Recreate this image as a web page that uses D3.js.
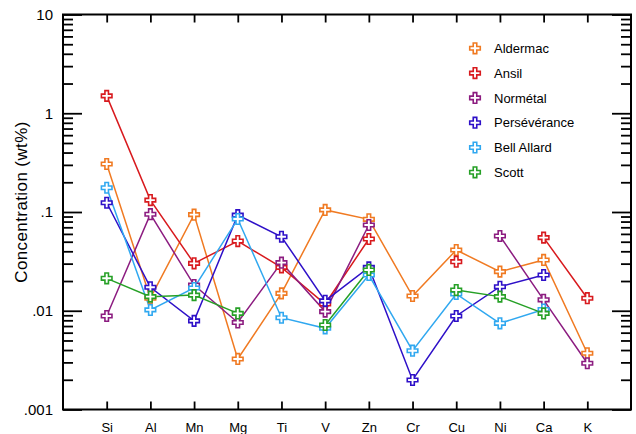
<!DOCTYPE html>
<html>
<head>
<meta charset="utf-8">
<script src="https://cdn.jsdelivr.net/npm/d3@7"></script>
<style>
  body { margin: 0; background: #fff; }
  text { font-family: "Liberation Sans", Arial, Helvetica, sans-serif; fill: #000; }
</style>
</head>
<body>
<div class="chart"></div>
<script>
var elements = ["Si", "Al", "Mn", "Mg", "Ti", "V", "Zn", "Cr", "Cu", "Ni", "Ca", "K"];

var aldermac     = [0.306, 0.0134, 0.094, 0.00325, 0.0150, 0.105, 0.0843, 0.0141, 0.0412, 0.0249, 0.0327, 0.00371];
var ansil        = [1.50, 0.132, 0.0302, 0.0508, 0.0275, 0.0117, 0.0533, null, 0.0314, null, 0.055, 0.0134];
var normetal     = [0.00885, 0.095, 0.0182, 0.0076, 0.0307, 0.0098, 0.0738, null, null, 0.0571, 0.0129, 0.00294];
var perseverance = [0.124, 0.0173, 0.0079, 0.093, 0.0562, 0.0126, 0.0275, 0.00199, 0.00885, 0.0175, 0.023, null];
var bellAllard   = [0.176, 0.0102, 0.0170, 0.085, 0.0085, 0.00664, 0.0230, 0.00394, 0.0148, 0.00746, 0.0103, null];
var scott        = [0.0213, 0.0139, 0.0144, 0.0094, null, 0.00718, 0.0259, null, 0.0162, 0.0139, 0.0094, null];

var seriesNames = ["Aldermac", "Ansil", "Normétal", "Persévérance", "Bell Allard", "Scott"];
var seriesColors = ["#f07a22", "#d81a1e", "#8c1c80", "#2e10c8", "#30a8f0", "#26a026"];
var seriesValues = [aldermac, ansil, normetal, perseverance, bellAllard, scott];

var majorTicks = [0.001, 0.01, 0.1, 1, 10];
var majorLabels = [".001", ".01", ".1", "1", "10"];

var width = 636,
    height = 434;
var plotLeft = 63, plotRight = 631, plotTop = 14.5, plotBottom = 409.5;

var svg = d3.select(".chart").append("svg")
    .attr("width", width)
    .attr("height", height);

var x = d3.scalePoint().domain(elements).range([plotLeft, plotRight]).padding(1);
var y = d3.scaleLog().domain([0.001, 10]).range([plotBottom, plotTop]);

var minorTicks = [];
[0.001, 0.01, 0.1, 1].forEach(function(d) {
  for (var k = 2; k <= 9; k++) minorTicks.push(d * k);
});

// left axis
svg.append("g")
    .attr("class", "axis")
    .attr("transform", "translate(" + plotLeft + ",0)")
    .call(d3.axisLeft(y).tickValues(majorTicks).tickSize(-19).tickPadding(10)
      .tickFormat(function(d, i) { return majorLabels[i]; }));
svg.append("g")
    .attr("class", "axis")
    .attr("transform", "translate(" + plotLeft + ",0)")
    .call(d3.axisLeft(y).tickValues(minorTicks).tickSize(-10).tickFormat(""));

// right axis
svg.append("g")
    .attr("class", "axis")
    .attr("transform", "translate(" + plotRight + ",0)")
    .call(d3.axisRight(y).tickValues(majorTicks).tickSize(-19).tickFormat(""));
svg.append("g")
    .attr("class", "axis")
    .attr("transform", "translate(" + plotRight + ",0)")
    .call(d3.axisRight(y).tickValues(minorTicks).tickSize(-10).tickFormat(""));

// bottom + top
svg.append("g")
    .attr("class", "axis xlab")
    .attr("transform", "translate(0," + plotBottom + ")")
    .call(d3.axisBottom(x).tickSize(-8).tickPadding(13));
svg.append("g")
    .attr("class", "axis")
    .attr("transform", "translate(0," + plotTop + ")")
    .call(d3.axisTop(x).tickSize(-8).tickFormat(""));

svg.selectAll(".axis .domain").remove();
svg.selectAll(".axis line").attr("stroke", "#000").attr("stroke-width", 1.8);
svg.selectAll(".axis text").style("font-size", "15px").attr("fill", "#000");
svg.selectAll(".xlab text").style("font-size", "13px");

svg.append("rect")
    .attr("x", plotLeft)
    .attr("y", plotTop)
    .attr("width", plotRight - plotLeft)
    .attr("height", plotBottom - plotTop)
    .attr("fill", "none")
    .attr("stroke", "#000")
    .attr("stroke-width", 2);

svg.append("text")
    .attr("transform", "translate(21,202) rotate(-90)")
    .attr("text-anchor", "middle")
    .attr("dy", "0.35em")
    .style("font-size", "17px")
    .style("letter-spacing", "0.4px")
    .text("Concentration (wt%)");

var line = d3.line()
    .defined(function(d) { return d != null; })
    .x(function(d, i) { return x(elements[i]); })
    .y(function(d) { return y(d); });

var cross = d3.symbol().type(d3.symbolCross).size(62);

seriesValues.forEach(function(vals, s) {
  svg.append("path")
      .datum(vals)
      .attr("fill", "none")
      .attr("stroke", seriesColors[s])
      .attr("stroke-width", 1.5)
      .attr("d", line);
});

seriesValues.forEach(function(vals, s) {
  var pts = vals.map(function(v, i) { return {el: elements[i], v: v}; })
    .filter(function(d) { return d.v != null; });
  svg.append("g").selectAll("path")
      .data(pts)
      .enter().append("path")
      .attr("transform", function(d) { return "translate(" + x(d.el) + "," + y(d.v) + ")"; })
      .attr("d", cross)
      .attr("fill", "#fff")
      .attr("stroke", seriesColors[s])
      .attr("stroke-width", 1.6);
});

// legend
var legend = svg.append("g").selectAll("g")
    .data(seriesNames)
    .enter().append("g")
    .attr("transform", function(d, i) { return "translate(475," + (48.3 + i * 24.8) + ")"; });
legend.append("path")
    .attr("d", cross)
    .attr("fill", "#fff")
    .attr("stroke", function(d, i) { return seriesColors[i]; })
    .attr("stroke-width", 1.6);
legend.append("text")
    .attr("x", 19)
    .attr("dy", "0.36em")
    .style("font-size", "13px")
    .text(function(d) { return d; });
</script>
</body>
</html>
